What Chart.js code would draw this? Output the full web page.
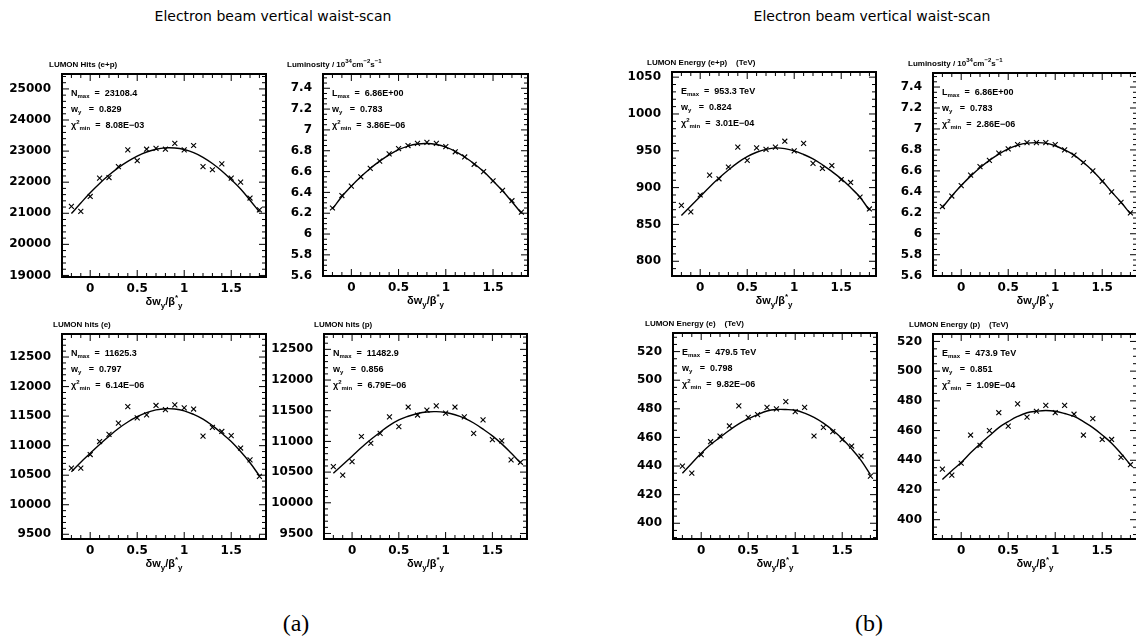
<!DOCTYPE html>
<html>
<head>
<meta charset="utf-8">
<script src="https://cdn.jsdelivr.net/npm/chart.js@4.4.1/dist/chart.umd.min.js"></script>
<style>
  body { margin: 0; background: #fff; width: 1136px; height: 643px; overflow: hidden; position: relative; }
  canvas { position: absolute; }
  .head { position: absolute; width: 400px; text-align: center; font: 14px "DejaVu Sans"; color: #000; }
  .tag { position: absolute; width: 60px; text-align: center; font: 24px "Liberation Serif"; color: #000; }
</style>
</head>
<body>
<div class="head" style="left:73px; top:8px;">Electron beam vertical waist-scan</div>
<div class="head" style="left:672px; top:8px;">Electron beam vertical waist-scan</div>
<div class="tag" style="left:266px; top:610px;">(a)</div>
<div class="tag" style="left:839px; top:610px;">(b)</div>
<script>
// scan positions (delta w_y / beta*_y)
const xScan = [-0.2, -0.1, 0, 0.1, 0.2, 0.3, 0.4, 0.5, 0.6, 0.7, 0.8, 0.9, 1, 1.1, 1.2, 1.3, 1.4, 1.5, 1.6, 1.7, 1.8];
const xTicks = [0, 0.5, 1, 1.5];

// (a) LUMON hits and luminosity
const hitsEP    = [21220, 21060, 21540, 22130, 22150, 22500, 23040, 22690, 23060, 23090, 23060, 23250, 23040, 23180, 22500, 22400, 22590, 22130, 22000, 21490, 21110];
const hitsEPFit = [20990, 21330, 21660, 21960, 22230, 22470, 22670, 22840, 22970, 23060, 23105, 23100, 23050, 22950, 22800, 22600, 22360, 22080, 21780, 21420, 21040];
const lumA      = [6.25, 6.37, 6.46, 6.55, 6.63, 6.70, 6.77, 6.82, 6.85, 6.87, 6.88, 6.87, 6.84, 6.79, 6.74, 6.67, 6.60, 6.51, 6.42, 6.32, 6.21];
const lumAFit   = [6.24, 6.36, 6.46, 6.55, 6.63, 6.70, 6.76, 6.81, 6.845, 6.865, 6.87, 6.86, 6.835, 6.795, 6.74, 6.675, 6.60, 6.51, 6.415, 6.31, 6.20];
const hitsE     = [10620, 10620, 10850, 11070, 11190, 11380, 11660, 11470, 11520, 11680, 11610, 11690, 11640, 11620, 11160, 11310, 11240, 11170, 10960, 10760, 10480];
const hitsEFit  = [10560, 10720, 10870, 11020, 11160, 11290, 11400, 11490, 11560, 11605, 11625, 11620, 11590, 11530, 11450, 11340, 11210, 11070, 10900, 10710, 10490];
const hitsP     = [10590, 10450, 10670, 11080, 10970, 11130, 11400, 11240, 11560, 11430, 11510, 11580, 11460, 11560, 11400, 11130, 11350, 11030, 11010, 10700, 10660];
const hitsPFit  = [10480, 10620, 10760, 10900, 11030, 11150, 11260, 11350, 11410, 11455, 11480, 11485, 11470, 11435, 11380, 11300, 11200, 11090, 10960, 10810, 10650];

// (b) LUMON energy and luminosity
const energyEP    = [876, 867, 890, 917, 912, 928, 955, 937, 954, 952, 955, 963, 950, 960, 933, 926, 930, 911, 907, 887, 871];
const energyEPFit = [862, 875, 888, 901, 913, 924, 934, 942, 948, 952, 954, 953, 950, 945, 939, 931, 922, 912, 900, 887, 869];
const lumB        = [6.26, 6.36, 6.46, 6.56, 6.64, 6.70, 6.77, 6.81, 6.85, 6.87, 6.87, 6.87, 6.85, 6.80, 6.75, 6.68, 6.60, 6.50, 6.40, 6.30, 6.20];
const lumBFit     = [6.25, 6.36, 6.46, 6.55, 6.63, 6.70, 6.76, 6.81, 6.845, 6.865, 6.87, 6.865, 6.84, 6.80, 6.75, 6.68, 6.60, 6.505, 6.40, 6.30, 6.19];
const energyE     = [440, 435, 448, 457, 461, 468, 482, 474, 476, 481, 480, 485, 478, 481, 461, 467, 464, 458.5, 454, 447, 433];
const energyEFit  = [435, 442, 449, 455, 460, 465, 469.5, 473, 476, 478.5, 479.5, 479.5, 479, 477, 474, 470, 465, 459, 452, 444, 434];
const energyP     = [434, 430, 438, 457, 450, 460, 472, 463, 478, 469, 473, 477, 472, 477, 471, 457, 468, 454, 454, 442, 437];
const energyPFit  = [427, 433, 438.5, 445, 451, 456.5, 462, 466, 469.5, 472, 473, 473.5, 473, 471.5, 469.5, 466, 462, 457, 451.5, 444.5, 437];

// y tick labels
const hitsEPTicks = [19000, 20000, 21000, 22000, 23000, 24000, 25000];
const lumTicks = [5.6, 5.8, 6, 6.2, 6.4, 6.6, 6.8, 7, 7.2, 7.4];
const hitsTicks = [9500, 10000, 10500, 11000, 11500, 12000, 12500];
const energyEPTicks = [800, 850, 900, 950, 1000, 1050];
const energyTicks = [400, 420, 440, 460, 480, 500, 520];

const lumTitle = [['Luminosity / 10'], ['34', 'sup'], ['cm'], ['\u22122', 'sup'], ['s'], ['\u22121', 'sup']];
const stats = (sym, val, w, chi) => [
  [[sym], ['max', 'sub'], ['  =  ' + val]],
  [['w'], ['y', 'sub'], ['   =  ' + w]],
  [['\u03c7'], ['2', 'sup'], ['min', 'sub'], ['  =  ' + chi]]
];

const panels = [
  { box: [62, 74, 266, 277], y: [18950, 25480], ticks: hitsEPTicks, minor: 5, vals: hitsEP, fit: hitsEPFit,
    title: [['LUMON Hits (e+p)']], tdx: -13, stats: stats('N', '23108.4', '0.829', '8.08E\u221203') },
  { box: [323, 74, 528, 276], y: [5.597, 7.537], ticks: lumTicks, minor: 4, vals: lumA, fit: lumAFit,
    title: lumTitle, tdx: -36, stats: stats('L', '6.86E+00', '0.783', '3.86E\u221206') },
  { box: [62, 334, 266, 539], y: [9420, 12890], ticks: hitsTicks, minor: 5, vals: hitsE, fit: hitsEFit,
    title: [['LUMON hits (e)']], tdx: -9, stats: stats('N', '11625.3', '0.797', '6.14E\u221206') },
  { box: [324, 334, 527, 539], y: [9410, 12750], ticks: hitsTicks, minor: 5, vals: hitsP, fit: hitsPFit,
    title: [['LUMON hits (p)']], tdx: -10, stats: stats('N', '11482.9', '0.856', '6.79E\u221206') },
  { box: [672, 72, 876, 276], y: [780, 1057], ticks: energyEPTicks, minor: 5, vals: energyEP, fit: energyEPFit,
    title: [['LUMON Energy (e+p)    (TeV)']], tdx: -25, stats: stats('E', '953.3 TeV', '0.824', '3.01E\u221204') },
  { box: [933, 73, 1137, 276], y: [5.597, 7.534], ticks: lumTicks, minor: 4, vals: lumB, fit: lumBFit,
    title: lumTitle, tdx: -25, stats: stats('L', '6.86E+00', '0.783', '2.86E\u221206') },
  { box: [673, 333, 877, 539], y: [389, 533], ticks: energyTicks, minor: 4, vals: energyE, fit: energyEFit,
    title: [['LUMON Energy (e)    (TeV)']], tdx: -28, stats: stats('E', '479.5 TeV', '0.798', '9.82E\u221206') },
  { box: [933, 334, 1137, 539], y: [387, 525], ticks: energyTicks, minor: 4, vals: energyP, fit: energyPFit,
    title: [['LUMON Energy (p)    (TeV)']], tdx: -24, stats: stats('E', '473.9 TeV', '0.851', '1.09E\u221204') }
];

const PAD_L = 60, PAD_T = 22, PAD_R = 6, PAD_B = 45;
const X_MIN = -0.3, X_MAX = 1.87;

function drawRich(ctx, x, y, parts, size, align) {
  const font = k => 'bold ' + (k ? Math.round(size * 0.7) : size) + 'px "Liberation Sans"';
  let w = 0;
  parts.forEach(([t, k]) => { ctx.font = font(k); w += ctx.measureText(t).width; });
  let cx = align === 'center' ? x - w / 2 : x;
  ctx.textBaseline = 'middle';
  ctx.textAlign = 'left';
  parts.forEach(([t, k]) => {
    ctx.font = font(k);
    const dy = k === 'sub' ? size * 0.3 : k === 'sup' ? -size * 0.4 : 0;
    ctx.fillText(t, cx, y + dy);
    cx += ctx.measureText(t).width;
  });
}

function decor(p) {
  return {
    id: 'decor',
    afterDraw(chart) {
      const { ctx, chartArea: a, scales: { x, y } } = chart;
      ctx.save();
      ctx.strokeStyle = '#000';
      ctx.fillStyle = '#000';
      ctx.lineWidth = 1;
      const seg = (x1, y1, x2, y2) => { ctx.beginPath(); ctx.moveTo(x1, y1); ctx.lineTo(x2, y2); ctx.stroke(); };
      // x ticks, bottom and top
      for (let i = Math.ceil(x.min * 10); i <= Math.floor(x.max * 10); i++) {
        const px = x.getPixelForValue(i / 10);
        const len = i % 5 === 0 ? 7 : 4;
        seg(px, a.bottom, px, a.bottom - len);
        seg(px, a.top, px, a.top + len);
      }
      // y ticks, left and right
      const step = (p.ticks[1] - p.ticks[0]) / p.minor;
      const base = p.ticks[0];
      for (let i = Math.ceil((y.min - base) / step); base + i * step <= y.max; i++) {
        const py = y.getPixelForValue(base + i * step);
        const len = i % p.minor === 0 ? 7 : 4;
        seg(a.left, py, a.left + len, py);
        seg(a.right, py, a.right - len, py);
      }
      ctx.lineWidth = 2;
      ctx.strokeRect(a.left, a.top, a.right - a.left, a.bottom - a.top);
      // panel title, fit results, axis title
      drawRich(ctx, a.left + p.tdx, a.top - 9, p.title, 8);
      p.stats.forEach((line, i) => drawRich(ctx, a.left + 9, a.top + 20 + i * 16, line, 9));
      drawRich(ctx, (a.left + a.right) / 2, a.bottom + 25,
        [['\u03b4w'], ['y', 'sub'], ['/\u03b2'], ['*', 'sup'], ['y', 'sub']], 11, 'center');
      ctx.restore();
    }
  };
}

const pts = vals => xScan.map((x, i) => ({ x: x, y: vals[i] }));
const tickFont = { family: 'DejaVu Sans', size: 12, weight: 'bold' };

panels.forEach(p => {
  const [l, t, r, b] = p.box;
  const cv = document.createElement('canvas');
  cv.width = r - l + PAD_L + PAD_R;
  cv.height = b - t + PAD_T + PAD_B;
  cv.style.left = (l - PAD_L) + 'px';
  cv.style.top = (t - PAD_T) + 'px';
  document.body.appendChild(cv);

  new Chart(cv, {
    type: 'scatter',
    data: {
      datasets: [
        { data: pts(p.fit), showLine: true, borderColor: '#000', borderWidth: 1.4, pointRadius: 0, tension: 0.4 },
        { data: pts(p.vals), pointStyle: 'crossRot', pointRadius: 3.5, borderColor: '#000', borderWidth: 1.1 }
      ]
    },
    options: {
      responsive: false,
      animation: false,
      devicePixelRatio: 1,
      layout: { padding: { top: PAD_T, right: PAD_R, left: 0, bottom: 0 } },
      plugins: { legend: { display: false }, tooltip: { enabled: false } },
      scales: {
        x: {
          type: 'linear', min: X_MIN, max: X_MAX,
          grid: { display: false, drawTicks: false }, border: { display: false },
          afterBuildTicks: s => { s.ticks = xTicks.map(v => ({ value: v })); },
          afterFit: s => { s.height = PAD_B; },
          ticks: { padding: 5, color: '#000', font: tickFont, maxRotation: 0, autoSkip: false, callback: v => String(v) }
        },
        y: {
          type: 'linear', min: p.y[0], max: p.y[1],
          grid: { display: false, drawTicks: false }, border: { display: false },
          afterBuildTicks: s => { s.ticks = p.ticks.map(v => ({ value: v })); },
          afterFit: s => { s.width = PAD_L; },
          ticks: { padding: 11, color: '#000', font: tickFont, autoSkip: false, callback: v => String(v) }
        }
      }
    },
    plugins: [decor(p)]
  });
});
</script>
</body>
</html>
